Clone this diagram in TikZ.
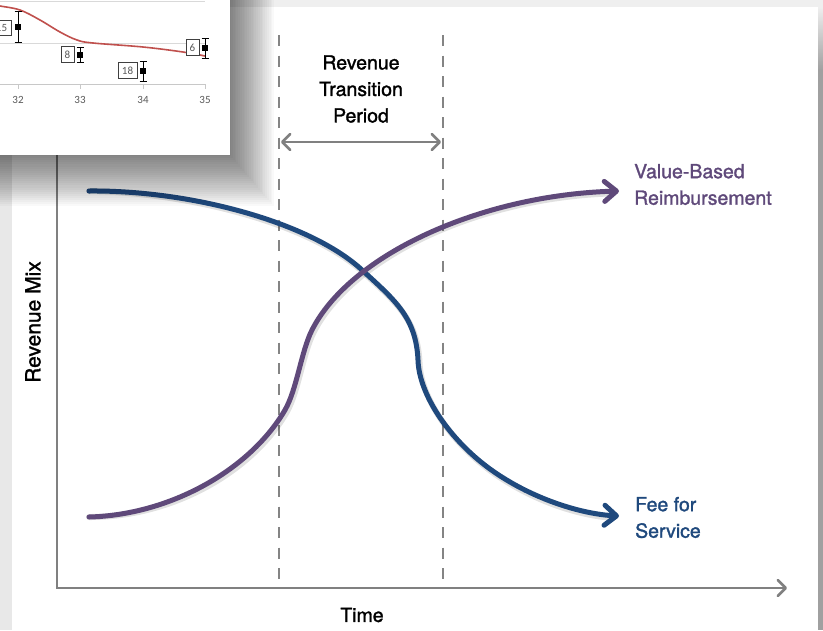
\documentclass[tikz,border=0pt]{standalone}
\usepackage{fontspec}
\setmainfont{TeX Gyre Heros}[FakeBold=1.4,BoldFont={TeX Gyre Heros}]
\newfontfamily\insetfont{Carlito}
\usetikzlibrary{arrows.meta}
\definecolor{fsblue}{RGB}{31,73,125}
\definecolor{vbpurple}{RGB}{95,73,122}
\definecolor{axisgray}{RGB}{128,128,128}
\definecolor{dashgray}{RGB}{132,132,132}
\definecolor{bggray}{RGB}{239,239,239}
\definecolor{leftgray}{RGB}{232,232,232}
\definecolor{rightgray}{RGB}{160,160,160}
\definecolor{insetred}{RGB}{192,80,77}
\definecolor{gridgray}{RGB}{217,217,217}
\definecolor{insetaxis}{RGB}{200,200,200}
\definecolor{ticklabel}{RGB}{89,89,89}
\definecolor{boxdark}{RGB}{64,64,64}
\begin{document}
\begin{tikzpicture}[x=1pt,y=-1pt,
  axisline/.style={draw=axisgray,line width=2.5pt},
  divider/.style={draw=dashgray,line width=2.4pt,dash pattern=on 11pt off 9.5pt},
  mixcurve/.style={line width=5pt,line cap=round},
  curveshadow/.style={line width=6pt,line cap=round,draw=black,opacity=0.12},
  mainlabel/.style={font=\fontsize{19.5}{26.5}\selectfont\bfseries,inner sep=0pt,align=center},
  sidelabel/.style={font=\fontsize{19.5}{26.5}\selectfont\bfseries,inner sep=0pt,align=left,anchor=west},
  ticktext/.style={font=\insetfont\fontsize{11}{12}\selectfont,text=ticklabel,inner sep=0pt},
  valbox/.style={draw=boxdark,fill=white,line width=0.8pt,font=\insetfont\fontsize{11}{12}\selectfont,text=ticklabel,inner sep=0pt,minimum height=16pt},
  errbar/.style={draw=black,line width=0.9pt},
  axistip/.tip={Straight Barb[length=8pt,width=16pt,round]},
  curvetip/.tip={Straight Barb[length=12pt,width=20pt,round]}
]
\useasboundingbox (0,0) rectangle (823,630);
% backdrop
\fill[bggray] (0,0) rectangle (823,630);
\fill[leftgray] (0,0) rectangle (12,630);
\shade[top color=bggray,bottom color=rightgray] (818,7) rectangle (823,70);
\fill[rightgray] (818,70) rectangle (823,630);
\fill[white] (12,7) rectangle (818,630);

% axes
\coordinate (ytop) at (57,40);
\coordinate (origin) at (57,588);
\coordinate (xend) at (787,588);
\draw[axisline,-axistip] (ytop) -- (origin) -- (xend);

% dashed dividers
\coordinate (d1top) at (279,35);
\coordinate (d1bot) at (279,588);
\coordinate (d2top) at (443,35);
\coordinate (d2bot) at (443,588);
\draw[divider] (d1top) -- (d1bot);
\draw[divider] (d2top) -- (d2bot);

% transition period arrow
\coordinate (pl) at (281,142);
\coordinate (pr) at (441,142);
\draw[axisline,axistip-axistip] (pl) -- (pr);
\node[mainlabel] (period) at (361,89) {Revenue\\Transition\\Period};

% curve end points
\coordinate (fsstart) at (89,191);
\coordinate (fsend) at (619,516);
\coordinate (vbstart) at (89,517);
\coordinate (vbend) at (619,191);

% curve shadows
\begin{scope}[shift={(1.5,2.5)}]
\draw[curveshadow] (fsstart) .. controls (190,190) and (310,222) .. (362,270)
  .. controls (396,301) and (416,318) .. (418,360)
  .. controls (419,395) and (450,440) .. (490,469)
  .. controls (530,498) and (575,512) .. (607,515);
\draw[curveshadow] (vbstart) .. controls (170,515) and (250,470) .. (285,410)
  .. controls (297,389) and (301,352) .. (312,330)
  .. controls (350,255) and (475,196) .. (607,191);
\end{scope}

% fee for service curve
\draw[mixcurve,draw=fsblue,-curvetip] (fsstart) .. controls (190,190) and (310,222) .. (362,270)
  .. controls (396,301) and (416,318) .. (418,360)
  .. controls (419,395) and (450,440) .. (490,469)
  .. controls (530,498) and (580,514) .. (fsend);
% value-based curve
\draw[mixcurve,draw=vbpurple,-curvetip] (vbstart) .. controls (170,515) and (250,470) .. (285,410)
  .. controls (297,389) and (301,352) .. (312,330)
  .. controls (350,255) and (480,195) .. (vbend);

% labels
\node[sidelabel,text=vbpurple] (vbr) at (634,184.5) {Value-Based\\Reimbursement};
\node[sidelabel,text=fsblue] (ffs) at (635,517.5) {Fee for\\Service};
\node[mainlabel] (time) at (362,615) {Time};
\node[mainlabel,font=\fontsize{21}{24}\selectfont\bfseries,rotate=90] (mix) at (33,322) {Revenue Mix};

% inset shadow
\foreach \i in {0,...,24}{
  \fill[black,opacity=0.022] (-40,-40) rectangle ({231+1.8*\i},{156+2.1*\i});
}
% inset chart
\fill[white] (0,0) rectangle (230,155);
\begin{scope}
\clip (0,0) rectangle (230,155);
\draw[gridgray,line width=1pt] (0,1.5) -- (205,1.5);
\draw[gridgray,line width=1pt] (0,43) -- (205,43);
\draw[insetaxis,line width=1pt] (0,84) -- (205,84);
\foreach \tx/\tl in {18/32,80/33,143/34,205/35}{
  \draw[insetaxis,line width=1pt] (\tx,84) -- (\tx,89);
  \node[ticktext] at (\tx,100) {\tl};
}
\draw[insetred,line width=1.6pt] plot[smooth,tension=0.6] coordinates {(-5,5) (0,6) (20,10) (40,20) (60,32) (77,40) (93,43) (143,47) (183,52) (205,56)};
\foreach \ex/\ey/\elo/\ehi in {18/27/11/42,80/55/47/62,143/71/61/81,205/48/38/58}{
  \draw[errbar] (\ex,\elo) -- (\ex,\ehi);
  \draw[errbar] ({\ex-3.5},\elo) -- ({\ex+3.5},\elo);
  \draw[errbar] ({\ex-3.5},\ehi) -- ({\ex+3.5},\ehi);
  \fill[black] ({\ex-3.2},{\ey-3.2}) rectangle ({\ex+3.2},{\ey+3.2});
}
\node[valbox,minimum width=19pt,minimum height=15pt] (b15) at (1.5,27.5) {15};
\node[valbox,minimum width=13pt] (b8) at (67.5,54.5) {8};
\node[valbox,minimum width=19pt] (b18) at (127.5,70.5) {18};
\node[valbox,minimum width=13pt] (b6) at (192.5,47.5) {6};
\end{scope}
\end{tikzpicture}
\end{document}
